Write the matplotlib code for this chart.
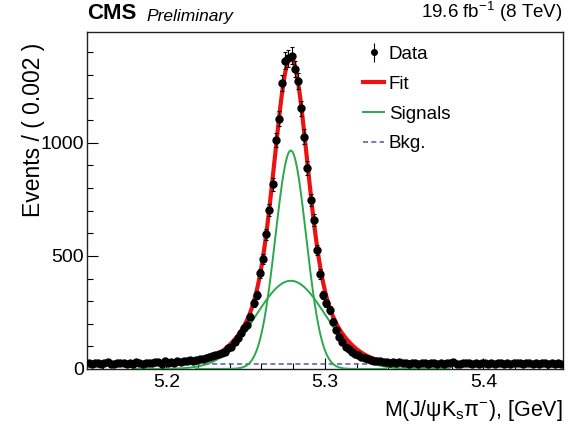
import numpy as np
import matplotlib
matplotlib.use("Agg")
import matplotlib.pyplot as plt
from matplotlib.ticker import MultipleLocator

plt.rcParams['font.family'] = ['Liberation Sans', 'DejaVu Sans']
plt.rcParams['mathtext.fontset'] = 'custom'
plt.rcParams['mathtext.rm'] = 'Liberation Sans'
plt.rcParams['mathtext.it'] = 'Liberation Sans:italic'

# binned data, 150 bins of 0.002 GeV from 5.15 to 5.45
bin_lo = 5.15
bin_w = 0.002
counts = [
    28, 24, 27, 25, 22, 26, 29, 24, 23, 27,
    25, 28, 22, 26, 24, 30, 27, 23, 28, 26,
    25, 29, 31, 24, 33, 27, 30, 28, 34, 32,
    36, 33, 38, 35, 40, 42, 45, 48, 53, 56,
    62, 66, 72, 77, 91, 99, 121, 136, 158, 180,
    195, 231, 293, 327, 423, 485, 596, 702, 817, 1013,
    1107, 1265, 1364, 1374, 1385, 1326, 1272, 1153, 1028, 888,
    748, 659, 525, 420, 327, 290, 261, 209, 173, 140,
    121, 99, 88, 77, 68, 62, 52, 47, 42, 40,
    36, 35, 33, 31, 30, 28, 31, 27, 29, 26,
    27, 24, 28, 25, 23, 27, 26, 22, 25, 28,
    24, 26, 23, 27, 25, 29, 24, 22, 26, 25,
    28, 23, 26, 24, 27, 25, 22, 26, 24, 28,
    25, 23, 27, 24, 26, 25, 28, 23, 25, 27,
    24, 26, 22, 25, 27, 24, 26, 23, 25, 24,
]

# fitted model: two gaussian signals + flat background
mean = 5.2785
narrow_amp, narrow_sigma = 966, 0.0097
wide_amp, wide_sigma = 390, 0.022
bkg_level = 22

counts = np.array(counts, dtype=float)
x = bin_lo + bin_w * (np.arange(len(counts)) + 0.5)

xf = np.linspace(5.15, 5.45, 1200)
sig_n = narrow_amp * np.exp(-0.5 * ((xf - mean) / narrow_sigma) ** 2)
sig_w = wide_amp * np.exp(-0.5 * ((xf - mean) / wide_sigma) ** 2)
bkg = np.full_like(xf, bkg_level)
fit = sig_n + sig_w + bkg

fig = plt.figure(figsize=(5.69, 4.28), dpi=100)
ax = fig.add_axes([0.153, 0.138, 0.836, 0.787])

green = '#2aa84a'
ax.plot(xf, bkg, color='#6262b4', lw=1.2, ls=(0, (3, 2)), label='Bkg.', zorder=2)
mn = np.abs(xf - mean) < 0.06
mw = np.abs(xf - mean) < 0.1
ax.plot(xf[mn], sig_n[mn], color=green, lw=1.4, zorder=3)
ax.plot(xf[mw], sig_w[mw], color=green, lw=1.4, label='Signals', zorder=3)
ax.plot(xf, fit, color='#ee1111', lw=3, label='Fit', zorder=4)
ax.errorbar(x, counts, yerr=np.sqrt(counts), fmt='o', color='black', ms=5,
            elinewidth=0.8, capsize=1.5, capthick=0.8, zorder=5)
dh = ax.errorbar([], [], yerr=[], fmt='o', color='black', ms=4, elinewidth=0.8,
                 capsize=0, label='Data')

ax.set_xlim(5.15, 5.45)
ax.set_ylim(0, 1490)
ax.xaxis.set_major_locator(MultipleLocator(0.1))
ax.xaxis.set_minor_locator(MultipleLocator(0.02))
ax.yaxis.set_major_locator(MultipleLocator(500))
ax.yaxis.set_minor_locator(MultipleLocator(100))
ax.tick_params(which='both', direction='in', top=False, right=False,
               labelsize=14, width=0.8)
ax.tick_params(which='major', length=8)
ax.tick_params(which='minor', length=4.5)
ax.tick_params(axis='y', pad=2)
for s in ax.spines.values():
    s.set_linewidth(1)
    s.set_color('#222222')

ax.set_ylabel('Events / ( 0.002 )', fontsize=16.5, y=0.968, ha='right',
              labelpad=-3)
ax.set_xlabel(r'M(J/ψK$_\mathrm{s}$π$^{-}$), [GeV]', fontsize=15.5, loc='right',
              labelpad=5)

fig.text(0.153, 0.945, 'CMS', fontsize=16, fontweight='bold', va='bottom')
fig.text(0.258, 0.945, 'Preliminary', fontsize=12.5, style='italic', va='bottom')
fig.text(0.989, 0.945, r'19.6 fb$^{-1}$ (8 TeV)', fontsize=13.5, ha='right',
         va='bottom')

h, l = ax.get_legend_handles_labels()
order = ['Data', 'Fit', 'Signals', 'Bkg.']
handles = [h[l.index(k)] for k in order]
ax.legend(handles, order, loc='upper left', bbox_to_anchor=(0.565, 0.982),
          frameon=False, fontsize=13.5, handlelength=1.1, handletextpad=0.25,
          labelspacing=0.68, borderaxespad=0)

fig.savefig('out.png', dpi=100)
